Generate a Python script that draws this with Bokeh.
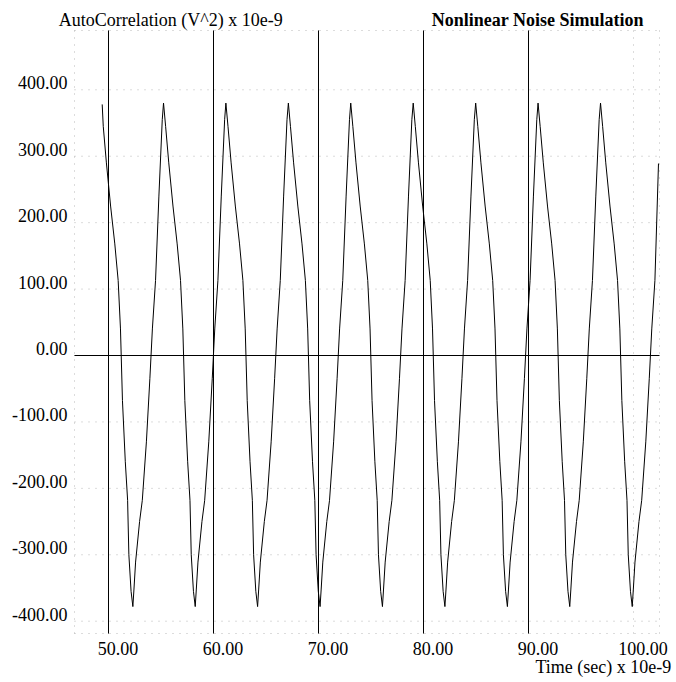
from bokeh.plotting import figure
from bokeh.models import Range1d, Label
from bokeh.core.properties import value
from bokeh.embed import file_html
from bokeh.resources import INLINE

# ---- data (time in ns, autocorrelation in V^2 x 1e-9) ----
time_ns = [
    49.40, 49.50, 49.80, 50.20, 50.60, 50.92, 51.14, 51.33, 51.60, 51.82, 51.94, 52.15,
    52.32, 52.42, 52.58, 52.96, 53.22, 53.61, 53.94, 54.18, 54.48, 54.80, 55.12,
    55.24, 55.44, 55.74, 56.14, 56.54, 56.86, 57.08, 57.27, 57.54, 57.76, 57.88, 58.09,
    58.26, 58.36, 58.52, 58.90, 59.16, 59.55, 59.88, 60.12, 60.42, 60.74, 61.06,
    61.18, 61.38, 61.68, 62.08, 62.48, 62.80, 63.02, 63.21, 63.48, 63.70, 63.82, 64.03,
    64.20, 64.30, 64.46, 64.84, 65.10, 65.49, 65.82, 66.06, 66.36, 66.68, 67.00,
    67.13, 67.33, 67.63, 68.03, 68.43, 68.75, 68.97, 69.16, 69.43, 69.65, 69.77, 69.98,
    70.15, 70.25, 70.41, 70.79, 71.05, 71.44, 71.77, 72.01, 72.31, 72.63, 72.95,
    73.07, 73.27, 73.57, 73.97, 74.37, 74.69, 74.91, 75.10, 75.37, 75.59, 75.71, 75.92,
    76.09, 76.19, 76.35, 76.73, 76.99, 77.38, 77.71, 77.95, 78.25, 78.57, 78.89,
    79.02, 79.22, 79.52, 79.92, 80.32, 80.64, 80.86, 81.05, 81.32, 81.54, 81.66, 81.87,
    82.04, 82.14, 82.30, 82.68, 82.94, 83.33, 83.66, 83.90, 84.20, 84.52, 84.84,
    84.97, 85.17, 85.47, 85.87, 86.27, 86.59, 86.81, 87.00, 87.27, 87.49, 87.61, 87.82,
    87.99, 88.09, 88.25, 88.63, 88.89, 89.28, 89.61, 89.85, 90.15, 90.47, 90.79,
    90.91, 91.11, 91.41, 91.81, 92.21, 92.53, 92.75, 92.94, 93.21, 93.43, 93.55, 93.76,
    93.93, 94.03, 94.19, 94.57, 94.83, 95.22, 95.55, 95.79, 96.09, 96.41, 96.73,
    96.86, 97.06, 97.36, 97.76, 98.16, 98.48, 98.70, 98.89, 99.16, 99.38, 99.50, 99.71,
    99.88, 99.98, 100.14, 100.52, 100.78, 101.17, 101.50, 101.74, 102.04, 102.38,
]
autocorr = [
    378, 345, 290, 225, 168, 113, 40, -68, -160, -218, -300, -355,
    -378, -353, -311, -250, -218, -130, -35, 40, 113, 240, 355,
    380, 345, 290, 225, 168, 113, 40, -68, -160, -218, -300, -355,
    -378, -353, -311, -250, -218, -130, -35, 40, 113, 240, 355,
    380, 345, 290, 225, 168, 113, 40, -68, -160, -218, -300, -355,
    -378, -353, -311, -250, -218, -130, -35, 40, 113, 240, 355,
    380, 345, 290, 225, 168, 113, 40, -68, -160, -218, -300, -355,
    -378, -353, -311, -250, -218, -130, -35, 40, 113, 240, 355,
    380, 345, 290, 225, 168, 113, 40, -68, -160, -218, -300, -355,
    -378, -353, -311, -250, -218, -130, -35, 40, 113, 240, 355,
    380, 345, 290, 225, 168, 113, 40, -68, -160, -218, -300, -355,
    -378, -353, -311, -250, -218, -130, -35, 40, 113, 240, 355,
    380, 345, 290, 225, 168, 113, 40, -68, -160, -218, -300, -355,
    -378, -353, -311, -250, -218, -130, -35, 40, 113, 240, 355,
    380, 345, 290, 225, 168, 113, 40, -68, -160, -218, -300, -355,
    -378, -353, -311, -250, -218, -130, -35, 40, 113, 240, 355,
    380, 345, 290, 225, 168, 113, 40, -68, -160, -218, -300, -355,
    -378, -353, -311, -250, -218, -130, -35, 40, 113, 289,
]
x_ticks = [50, 60, 70, 80, 90, 100]
x_tick_labels = ["50.00", "60.00", "70.00", "80.00", "90.00", "100.00"]
y_ticks = [-400, -300, -200, -100, 0, 100, 200, 300, 400]
y_tick_labels = ["-400.00", "-300.00", "-200.00", "-100.00", "0.00",
                 "100.00", "200.00", "300.00", "400.00"]
marker_times = [50, 60, 70, 80, 90]

title_text = "Nonlinear Noise Simulation"
y_title = "AutoCorrelation (V^2) x 10e-9"
x_title = "Time (sec) x 10e-9"

# ---- layout (pixels) ----
W, H = 676, 682
PX_PER_NS, X50_PX = 10.5, 108.0        # x = 50 sits at pixel 108
PX_PER_UNIT, Y0_PX = 0.66425, 355.0    # y = 0 sits at pixel 355
BOX_L, BOX_R, BOX_T, BOX_B = 74, 659, 30, 633
TXT_SHIFT = 7  # svg baseline correction (px)


def xdata(px):
    return 50 + (px - X50_PX) / PX_PER_NS


def ydata(py):
    return (Y0_PX - py) / PX_PER_UNIT


X_L, X_R = xdata(BOX_L), xdata(BOX_R)
Y_T, Y_B = ydata(BOX_T), ydata(BOX_B)

FONT = "Liberation Serif"
GRID = "#b8b8b8"

p = figure(width=W, height=H,
           x_range=Range1d(xdata(0), xdata(W)), y_range=Range1d(ydata(H), ydata(0)),
           output_backend="svg", toolbar_location=None,
           x_axis_location=None, y_axis_location=None,
           min_border=0, min_border_left=0, min_border_right=0,
           min_border_top=0, min_border_bottom=0)
p.background_fill_color = "white"
p.border_fill_color = "white"
p.outline_line_color = None
p.xgrid.visible = False
p.ygrid.visible = False

# dotted grid inside the plotting box (grid positions = tick values, plus the box border)
gx = x_ticks + [X_L, X_R]
gy = y_ticks + [Y_B, Y_T]
p.segment(x0=gx, y0=[Y_B] * len(gx), x1=gx, y1=[Y_T] * len(gx),
          line_color=GRID, line_dash="1 6", line_width=1)
p.segment(x0=[X_L] * len(gy), y0=gy, x1=[X_R] * len(gy), y1=gy,
          line_color=GRID, line_dash="1 6", line_width=1)

# solid cursor lines and zero line
p.segment(x0=marker_times, y0=[Y_B] * len(marker_times),
          x1=marker_times, y1=[Y_T] * len(marker_times),
          line_color="black", line_width=1)
p.segment(x0=[X_L], y0=[0], x1=[X_R], y1=[0], line_color="black", line_width=1)

# waveform
p.line(time_ns, autocorr, line_color="black", line_width=1)

# tick labels
p.text(x=x_ticks, y=[Y_B] * len(x_ticks), text=x_tick_labels,
       text_font=value(FONT), text_font_size="18px", text_color="black",
       text_align="center", text_baseline="alphabetic",
       x_offset=9.5, y_offset=22 - TXT_SHIFT)
p.text(x=[X_L] * len(y_ticks), y=y_ticks, text=y_tick_labels,
       text_font=value(FONT), text_font_size="18px", text_color="black",
       text_align="right", text_baseline="alphabetic",
       x_offset=-7, y_offset=-TXT_SHIFT)

# titles (screen units measured from the bottom-left of the canvas)
p.add_layout(Label(x=58.3, y=H - 26 + TXT_SHIFT, x_units="screen", y_units="screen", text=y_title,
                   text_font=FONT, text_font_size="18px", text_color="black",
                   text_align="left", text_baseline="alphabetic"))
p.add_layout(Label(x=643.3, y=H - 26 + TXT_SHIFT, x_units="screen", y_units="screen", text=title_text,
                   text_font=FONT, text_font_size="18px", text_font_style="bold",
                   text_color="black", text_align="right", text_baseline="alphabetic"))
p.add_layout(Label(x=670.7, y=H - 673 + TXT_SHIFT, x_units="screen", y_units="screen", text=x_title,
                   text_font=FONT, text_font_size="18px", text_color="black",
                   text_align="right", text_baseline="alphabetic"))

open("out.html", "w").write(file_html(p, INLINE))
